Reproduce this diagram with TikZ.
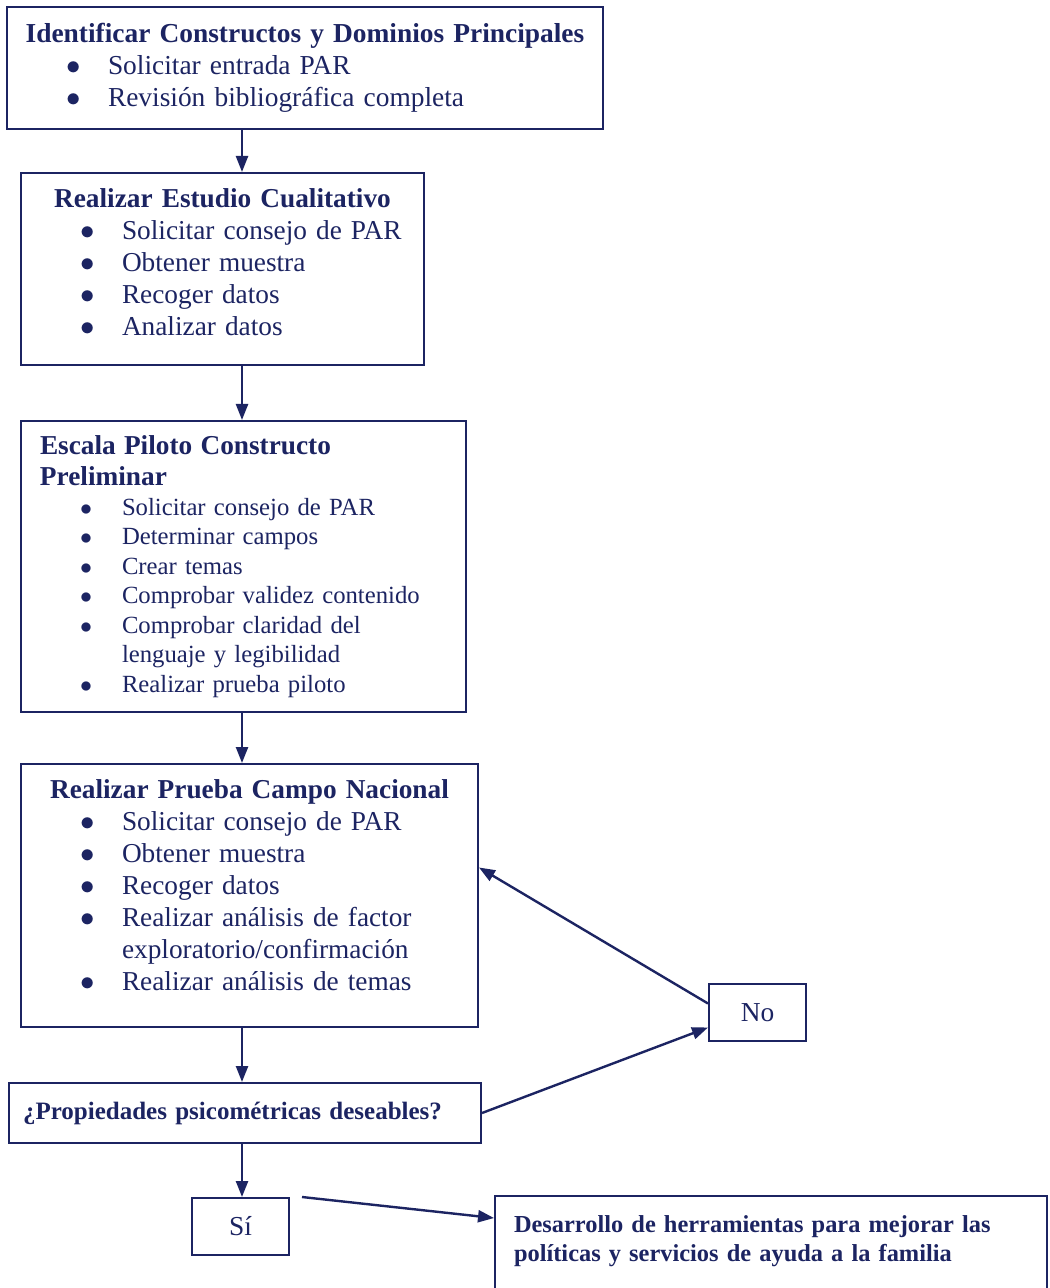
\documentclass[tikz,border=0pt]{standalone}
\usepackage{fontspec}
\setmainfont{Liberation Serif}
\usetikzlibrary{arrows.meta,positioning,calc}
\definecolor{navy}{RGB}{28,36,98}
% bullet line, continued line and centered title inside a box
\newcommand{\itm}[1]{\par\noindent\hspace*{29.5pt}\makebox[21pt][l]{$\bullet$}#1}
\newcommand{\cnt}[1]{\par\noindent\hspace*{50.5pt}#1}
\newcommand{\ttl}[1]{{\centering\textbf{#1}\par}}

\begin{document}
\begin{tikzpicture}[x=0.5pt,y=-0.5pt,
    box/.style={draw=navy, line width=1pt, anchor=north west, inner sep=0pt, text=navy,
      execute at begin node=\raggedright},
    small/.style={box, minimum width=48.5pt, minimum height=28.5pt, align=center, font=\fontsize{13.7}{16}\selectfont},
    line/.style={draw=navy, line width=1.2pt, -{Triangle[length=8pt,width=6pt]}}]
  \useasboundingbox (0,0) rectangle (1049,1288);
  \fill[white] (0,0) rectangle (1049,1288);
  \coordinate (axis) at (242,0);

  \node[box, text width=298pt, minimum height=61pt, font=\fontsize{13.7}{16}\selectfont] (ident) at (6,6)
    {\ttl{Identificar Constructos y Dominios Principales}%
     \itm{Solicitar entrada PAR}\itm{Revisión bibliográfica completa}};
  \node[box, text width=201.5pt, minimum height=96pt, font=\fontsize{13.65}{16}\selectfont] (cual) at (20,172)
    {\ttl{Realizar Estudio Cualitativo}%
     \itm{Solicitar consejo de PAR}\itm{Obtener muestra}\itm{Recoger datos}%
     \itm{Analizar datos\rule[-7pt]{0pt}{7pt}}};
  \node[box, text width=222.5pt, minimum height=145.5pt, font=\fontsize{12.35}{14.75}\selectfont] (piloto) at (20,420)
    {{\fontsize{13.65}{15.5}\selectfont
      \noindent\hspace*{9.5pt}\textbf{Escala Piloto Constructo}\par
      \noindent\hspace*{9.5pt}\textbf{Preliminar}\par}%
     \itm{Solicitar consejo de PAR}\itm{Determinar campos}\itm{Crear temas}%
     \itm{Comprobar validez contenido}\itm{Comprobar claridad del}\cnt{lenguaje y legibilidad}%
     \itm{Realizar prueba piloto}};
  \node[box, text width=228.5pt, minimum height=131.5pt, font=\fontsize{13.65}{16}\selectfont] (nacional) at (20,763)
    {\ttl{Realizar Prueba Campo Nacional}%
     \itm{Solicitar consejo de PAR}\itm{Obtener muestra}\itm{Recoger datos}%
     \itm{Realizar análisis de factor}\cnt{exploratorio/confirmación}%
     \itm{Realizar análisis de temas\rule[-10.5pt]{0pt}{10.5pt}}};
  \node[box, text width=236pt, minimum height=30pt, font=\fontsize{12.5}{14.75}\selectfont] (prop) at (8,1082)
    {\noindent\hspace*{7pt}\textbf{¿Propiedades psicométricas deseables?}};
  \node[small] (no) at (708,983) {No};
  \node[small] (si) at (191,1197) {Sí};
  \node[box, text width=276pt, font=\fontsize{12.2}{14.5}\selectfont] (fin) at (494,1195)
    {\noindent\hspace*{9.5pt}\rule{0pt}{18pt}\textbf{Desarrollo de herramientas para mejorar las}\par
     \noindent\hspace*{9.5pt}\textbf{políticas y servicios de ayuda a la familia}\rule[-50pt]{0pt}{50pt}};

  \draw[line] (ident.south -| axis) -- (cual.north -| axis);
  \draw[line] (cual.south -| axis) -- (piloto.north -| axis);
  \draw[line] (piloto.south -| axis) -- (nacional.north -| axis);
  \draw[line] (nacional.south -| axis) -- (prop.north -| axis);
  \draw[line] (prop.south -| axis) -- (si.north -| axis);
  \draw[line] (prop.east) -- ([yshift=-7.5pt]no.west);
  \draw[line] ([yshift=4.5pt]no.west) -- ([yshift=14pt]nacional.east);
  \draw[line] ([xshift=6pt]si.north east) -- ([yshift=-11.5pt]fin.north west);
\end{tikzpicture}
\end{document}
